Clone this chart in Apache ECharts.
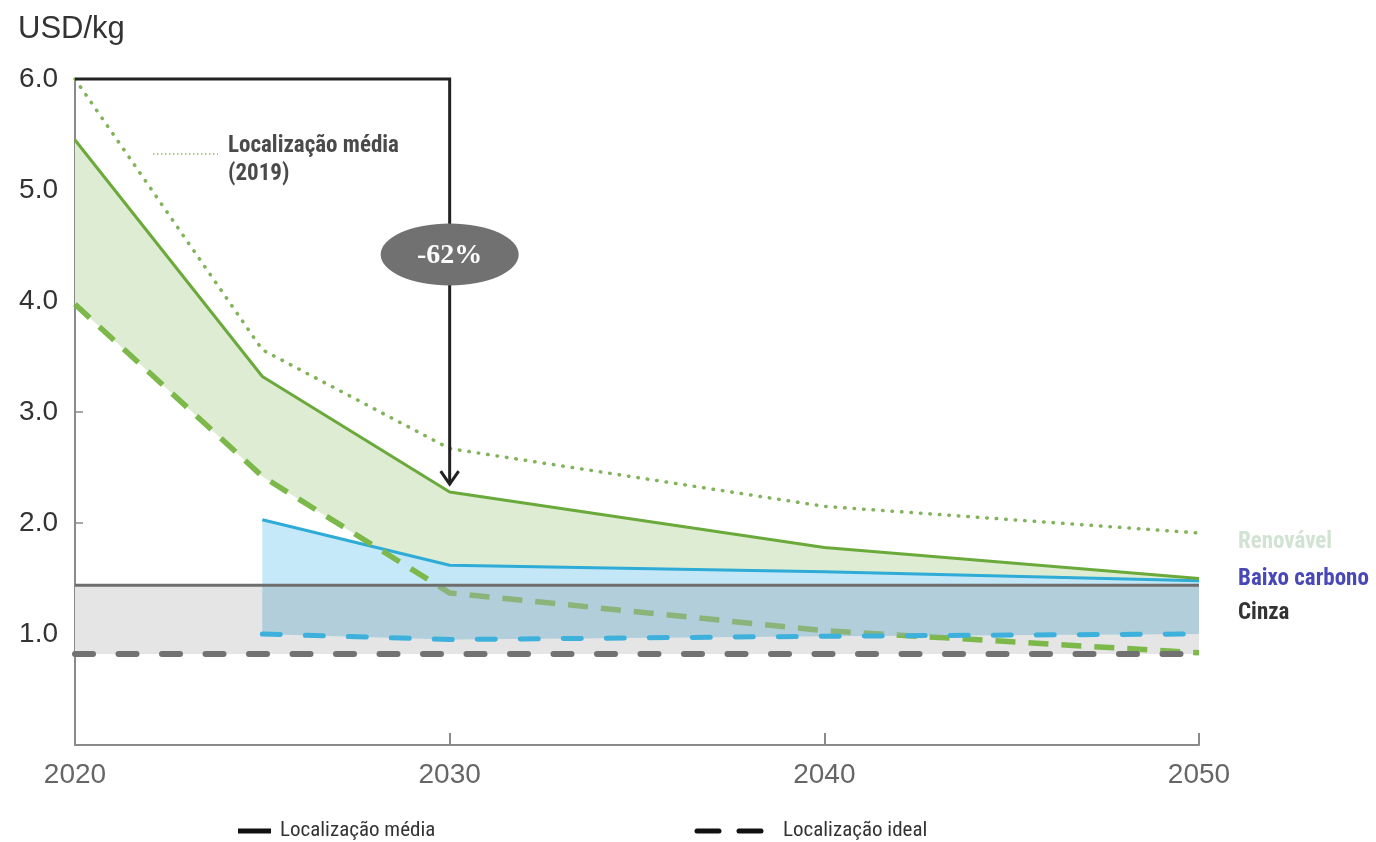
<!DOCTYPE html>
<html>
<head>
<meta charset="utf-8">
<title>Custo do hidrogênio</title>
<script src="https://cdn.jsdelivr.net/npm/echarts@6/dist/echarts.min.js"></script>
<style>
  html, body { margin: 0; padding: 0; background: #ffffff; }
  #chart { width: 1376px; height: 842px; }
</style>
</head>
<body>
<div id="chart"></div>
<script>
// Anos de referência das curvas
const years = [2020, 2025, 2030, 2040, 2050];
const yearsLowCarbon = [2025, 2030, 2040, 2050];
const yearsGrey = [2020, 2050];

// Renovável (USD/kg)
const renovavelMedia2019 = [6.0, 3.56, 2.67, 2.15, 1.91];
const renovavelMedia = [5.45, 3.32, 2.28, 1.78, 1.50];
const renovavelIdeal = [3.97, 2.42, 1.37, 1.03, 0.83];

// Baixo carbono (USD/kg)
const baixoCarbonoMedia = [2.03, 1.62, 1.56, 1.48];
const baixoCarbonoIdeal = [1.00, 0.95, 0.98, 1.00];

// Cinza (USD/kg)
const cinzaMedia = [1.44, 1.44];
const cinzaIdeal = [0.82, 0.82];

// Queda de custo destacada: 2020 -> 2030
const reducaoInicio = [2020, 6.0];
const reducaoFim = [2030, 2.35];
const reducaoRotulo = '-62%';
const reducaoRotuloY = 4.42;

const yTicks = [0, 1, 2, 3, 4, 5, 6];

function pairs(xs, ys) {
  return xs.map((x, i) => [x, ys[i]]);
}

// Faixa preenchida entre duas curvas
function band(name, xs, upper, lower, fill, z) {
  return {
    type: 'custom',
    name: name,
    z: z,
    silent: true,
    data: [[xs[0], lower[0]]],
    renderItem: function (params, api) {
      const pts = [];
      xs.forEach((x, i) => pts.push(api.coord([x, upper[i]])));
      for (let i = xs.length - 1; i >= 0; i--) pts.push(api.coord([xs[i], lower[i]]));
      return {
        type: 'polygon',
        shape: { points: pts },
        style: { fill: fill }
      };
    }
  };
}

function line(name, xs, ys, color, width, dash, z, cap) {
  return {
    type: 'line',
    name: name,
    z: z,
    silent: true,
    symbol: 'none',
    data: pairs(xs, ys),
    lineStyle: { color: color, width: width, type: dash, cap: cap || 'butt', join: 'round' }
  };
}

// Trecho em que a faixa de baixo carbono cobre a faixa cinza
const cinzaTopoNoBaixoCarbono = yearsLowCarbon.map(() => cinzaMedia[0]);

const chart = echarts.init(document.getElementById('chart'), null, { renderer: 'canvas' });

const condensed = '"Liberation Sans Narrow", "Roboto Condensed", Roboto, sans-serif';

const option = {
  backgroundColor: '#ffffff',
  animation: false,
  grid: { left: 75, right: 177, top: 79, bottom: 97, containLabel: false },
  xAxis: {
    type: 'value',
    min: 2020,
    max: 2050,
    interval: 10,
    splitLine: { show: false },
    axisLine: { show: true, lineStyle: { color: '#8a8a8a', width: 2 } },
    axisTick: { show: true, inside: true, length: 12, lineStyle: { color: '#8a8a8a', width: 2 } },
    axisLabel: {
      fontFamily: '"Liberation Sans", Arial, sans-serif',
      fontSize: 28,
      color: '#666666',
      margin: 16,
      formatter: v => String(v)
    }
  },
  yAxis: {
    type: 'value',
    min: yTicks[0],
    max: yTicks[yTicks.length - 1],
    interval: 1,
    splitLine: { show: false },
    axisLine: { show: true, lineStyle: { color: '#8a8a8a', width: 2 } },
    axisTick: { show: true, inside: true, length: 8, lineStyle: { color: '#8a8a8a', width: 1.5 } },
    axisLabel: {
      fontFamily: '"Liberation Sans", Arial, sans-serif',
      fontSize: 28,
      color: '#333333',
      margin: 17,
      formatter: v => (v === 0 ? '' : v.toFixed(1))
    }
  },
  series: [
    band('Renovável (faixa)', years, renovavelMedia, renovavelIdeal, '#ddecd2', 1),
    band('Cinza (faixa)', yearsGrey, cinzaMedia, cinzaIdeal, '#e5e5e5', 2),
    band('Baixo carbono (faixa)', yearsLowCarbon, baixoCarbonoMedia, baixoCarbonoIdeal, 'rgba(192,231,250,0.9)', 3),
    line('Baixo carbono – localização média', yearsLowCarbon, baixoCarbonoMedia, '#2eabd6', 3, 'solid', 4),
    line('Renovável – localização ideal', years, renovavelIdeal, '#7cb84a', 5.5, [20, 13], 5),
    band('Baixo carbono sobre cinza', yearsLowCarbon, cinzaTopoNoBaixoCarbono, baixoCarbonoIdeal, 'rgba(156,175,181,0.45)', 6),
    line('Renovável – localização média (2019)', years, renovavelMedia2019, '#82b25a', 3.5, [0.5, 9], 7, 'round'),
    line('Renovável – localização média', years, renovavelMedia, '#6aaa3a', 3, 'solid', 7),
    line('Baixo carbono – localização ideal', yearsLowCarbon, baixoCarbonoIdeal, '#3db1dc', 5, [18, 25], 7, 'round'),
    line('Cinza – localização média', yearsGrey, cinzaMedia, '#6e6e6e', 3, 'solid', 8),
    line('Cinza – localização ideal', yearsGrey, cinzaIdeal, '#727272', 6, [18, 25.5], 8, 'round'),
    {
      // Seta da redução de custo com o rótulo em elipse
      type: 'custom',
      name: 'Redução',
      z: 10,
      silent: true,
      data: [[reducaoFim[0], reducaoFim[1]]],
      renderItem: function (params, api) {
        const a = api.coord(reducaoInicio);
        const b = api.coord([reducaoFim[0], reducaoInicio[1]]);
        const tip = api.coord(reducaoFim);
        const c = api.coord([reducaoFim[0], reducaoRotuloY]);
        return {
          type: 'group',
          children: [
            {
              type: 'polyline',
              shape: { points: [a, b, tip] },
              style: { stroke: '#222222', lineWidth: 3, fill: null, lineJoin: 'miter' }
            },
            {
              type: 'polyline',
              shape: { points: [[tip[0] - 9, tip[1] - 13], tip, [tip[0] + 9, tip[1] - 13]] },
              style: { stroke: '#222222', lineWidth: 3, fill: null, lineJoin: 'miter' }
            },
            {
              type: 'ellipse',
              shape: { cx: c[0], cy: c[1], rx: 69, ry: 31 },
              style: { fill: '#717171' }
            },
            {
              type: 'text',
              x: c[0],
              y: c[1] + 1,
              style: {
                text: reducaoRotulo,
                fill: '#ffffff',
                font: 'bold 28px "Liberation Serif", "DejaVu Serif", serif',
                align: 'center',
                verticalAlign: 'middle'
              }
            }
          ]
        };
      }
    }
  ],
  graphic: [
    {
      type: 'text', left: 18, top: 14,
      style: { text: 'USD/kg', font: '31px "Liberation Sans", Arial, sans-serif', fill: '#333333' }
    },
    {
      type: 'line',
      shape: { x1: 153, y1: 154, x2: 218, y2: 154 },
      style: { stroke: '#a9cc8c', lineWidth: 2, lineDash: [1.5, 2.5] }
    },
    {
      type: 'text', x: 228, y: 146,
      style: { text: 'Localização média', font: 'bold 23px ' + condensed, fill: '#4a4a4a', verticalAlign: 'middle' }
    },
    {
      type: 'text', x: 228, y: 174,
      style: { text: '(2019)', font: 'bold 23px ' + condensed, fill: '#4a4a4a', verticalAlign: 'middle' }
    },
    {
      type: 'text', x: 82, y: 267,
      style: { text: '2020', font: 'bold 22px "Liberation Sans", Arial, sans-serif', fill: '#7ab450', verticalAlign: 'middle' }
    },
    {
      type: 'text', x: 1238, y: 542,
      style: { text: 'Renovável', font: 'bold 23px ' + condensed, fill: '#d3e3d3', verticalAlign: 'middle' }
    },
    {
      type: 'text', x: 1238, y: 579,
      style: { text: 'Baixo carbono', font: 'bold 23px ' + condensed, fill: '#4848b6', verticalAlign: 'middle' }
    },
    {
      type: 'text', x: 1238, y: 613,
      style: { text: 'Cinza', font: 'bold 23px ' + condensed, fill: '#333333', verticalAlign: 'middle' }
    },
    {
      type: 'line',
      shape: { x1: 238, y1: 831, x2: 271, y2: 831 },
      style: { stroke: '#111111', lineWidth: 5 }
    },
    {
      type: 'text', x: 280, y: 831,
      style: { text: 'Localização média', font: '21px ' + condensed, fill: '#333333', verticalAlign: 'middle' }
    },
    {
      type: 'line',
      shape: { x1: 697, y1: 831, x2: 762, y2: 831 },
      style: { stroke: '#111111', lineWidth: 5, lineDash: [22, 20], lineCap: 'round' }
    },
    {
      type: 'text', x: 783, y: 831,
      style: { text: 'Localização ideal', font: '21px ' + condensed, fill: '#333333', verticalAlign: 'middle' }
    }
  ]
};

chart.setOption(option);
</script>
</body>
</html>
